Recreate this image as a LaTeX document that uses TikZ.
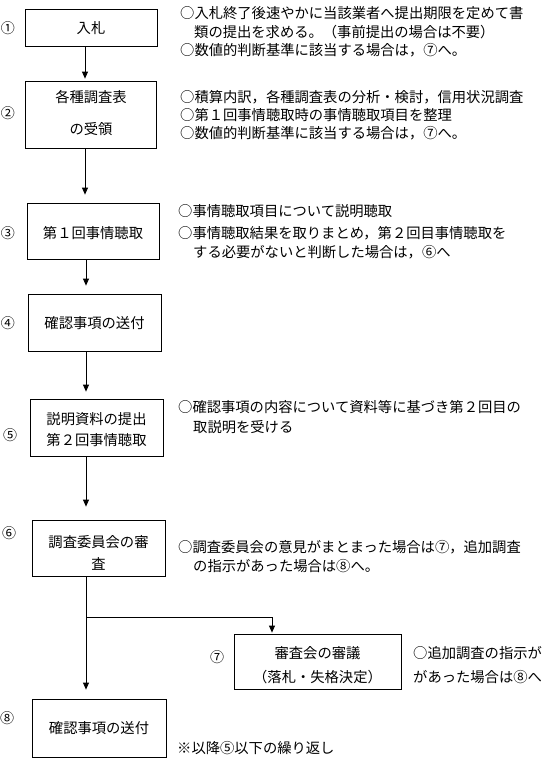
\documentclass[tikz,border=0pt]{standalone}
\usepackage{fontspec}
\newfontfamily\jp{Noto Sans CJK JP}
\usetikzlibrary{arrows.meta}
\begin{document}
\begin{tikzpicture}[x=1pt,y=-1pt,
  box/.style={draw, line width=0.8pt, inner sep=0pt},
  txt/.style={font=\jp\fontsize{14.3}{17}\selectfont, inner sep=0pt},
  lt/.style={txt, anchor=west},
  num/.style={font=\jp\fontsize{14}{16}\selectfont, inner sep=0pt},
  arr/.style={-{Triangle[length=7pt,width=6pt]}, line width=0.8pt}]
\fill[white] (0,0) rectangle (547,758);
\useasboundingbox (0,0) rectangle (547,758);
% boxes
\node[box, minimum width=132pt, minimum height=37pt] (b1) at (91,27.5) {};
\node[box, minimum width=131pt, minimum height=67pt] (b2) at (90.5,114.5) {};
\node[box, minimum width=132pt, minimum height=56pt] (b3) at (93,231) {};
\node[box, minimum width=133pt, minimum height=57pt] (b4) at (94.5,322.5) {};
\node[box, minimum width=133pt, minimum height=57pt] (b5) at (96.5,427.5) {};
\node[box, minimum width=133pt, minimum height=56pt] (b6) at (98.5,548) {};
\node[box, minimum width=167pt, minimum height=55pt] (b7) at (317.5,661.5) {};
\node[box, minimum width=134pt, minimum height=58pt] (b8) at (99,728) {};
% box texts
\node[txt] (b1t) at (91,28) {入札};
\node[txt] (b2ta) at (91,97) {各種調査表};
\node[txt] (b2tb) at (91,129) {の受領};
\node[txt] (b3t) at (93,233) {第１回事情聴取};
\node[txt] (b4t) at (94.5,323) {確認事項の送付};
\node[txt] (b5ta) at (96.5,419) {説明資料の提出};
\node[txt] (b5tb) at (96.5,440) {第２回事情聴取};
\node[txt] (b6ta) at (98.5,542) {調査委員会の審};
\node[txt] (b6tb) at (98.5,564) {査};
\node[txt] (b7ta) at (317.5,653) {審査会の審議};
\node[txt] (b7tb) at (317.5,677) {（落札・失格決定）};
\node[txt] (b8t) at (99,728) {確認事項の送付};
% numbers
\node[num] (n1) at (8,28) {①};
\node[num] (n2) at (8,113) {②};
\node[num] (n3) at (8,233) {③};
\node[num] (n4) at (8,323) {④};
\node[num] (n5) at (10,435) {⑤};
\node[num] (n6) at (9,533) {⑥};
\node[num] (n7) at (217,657) {⑦};
\node[num] (n8) at (7,718) {⑧};
% arrows
\coordinate (ax) at (85,0);
\coordinate (ay) at (86,0);
\coordinate (bx) at (272,0);
\draw[arr, shorten >=2pt] (b1.south -| ax) -- (b2.north -| ax);
\draw[arr, shorten >=8pt] (b2.south -| ax) -- (b3.north -| ax);
\draw[arr, shorten >=8pt] (b3.south -| ay) -- (b4.north -| ay);
\draw[arr, shorten >=7pt] (b4.south -| ay) -- (b5.north -| ay);
\draw[arr, shorten >=13pt] (b5.south -| ay) -- (b6.north -| ay);
\draw[arr, shorten >=9pt] (b6.south -| ay) -- (b8.north -| ay);
\coordinate (br) at (86,617);
\draw[arr, shorten >=1pt] (br) -| (b7.north -| bx);
% right texts
\node[lt] (r1a) at (180,13) {○入札終了後速やかに当該業者へ提出期限を定めて書};
\node[lt] (r1b) at (194,32) {類の提出を求める。（事前提出の場合は不要）};
\node[lt] (r1c) at (180,50) {○数値的判断基準に該当する場合は，⑦へ。};
\node[lt] (r2a) at (180,97) {○積算内訳，各種調査表の分析・検討，信用状況調査};
\node[lt] (r2b) at (180,115) {○第１回事情聴取時の事情聴取項目を整理};
\node[lt] (r2c) at (180,133) {○数値的判断基準に該当する場合は，⑦へ。};
\node[lt] (r3a) at (178,211) {○事情聴取項目について説明聴取};
\node[lt] (r3b) at (178,233) {○事情聴取結果を取りまとめ，第２回目事情聴取を};
\node[lt] (r3c) at (193,252) {する必要がないと判断した場合は，⑥へ};
\node[lt] (r5a) at (178,407) {○確認事項の内容について資料等に基づき第２回目の};
\node[lt] (r5b) at (193,427) {取説明を受ける};
\node[lt] (r6a) at (178,547) {○調査委員会の意見がまとまった場合は⑦，追加調査};
\node[lt] (r6b) at (193,566) {の指示があった場合は⑧へ。};
\node[lt] (r7a) at (413,653) {○追加調査の指示が};
\node[lt] (r7b) at (413,677) {があった場合は⑧へ};
\node[lt] (r8) at (177,748) {※以降⑤以下の繰り返し};
\end{tikzpicture}
\end{document}
